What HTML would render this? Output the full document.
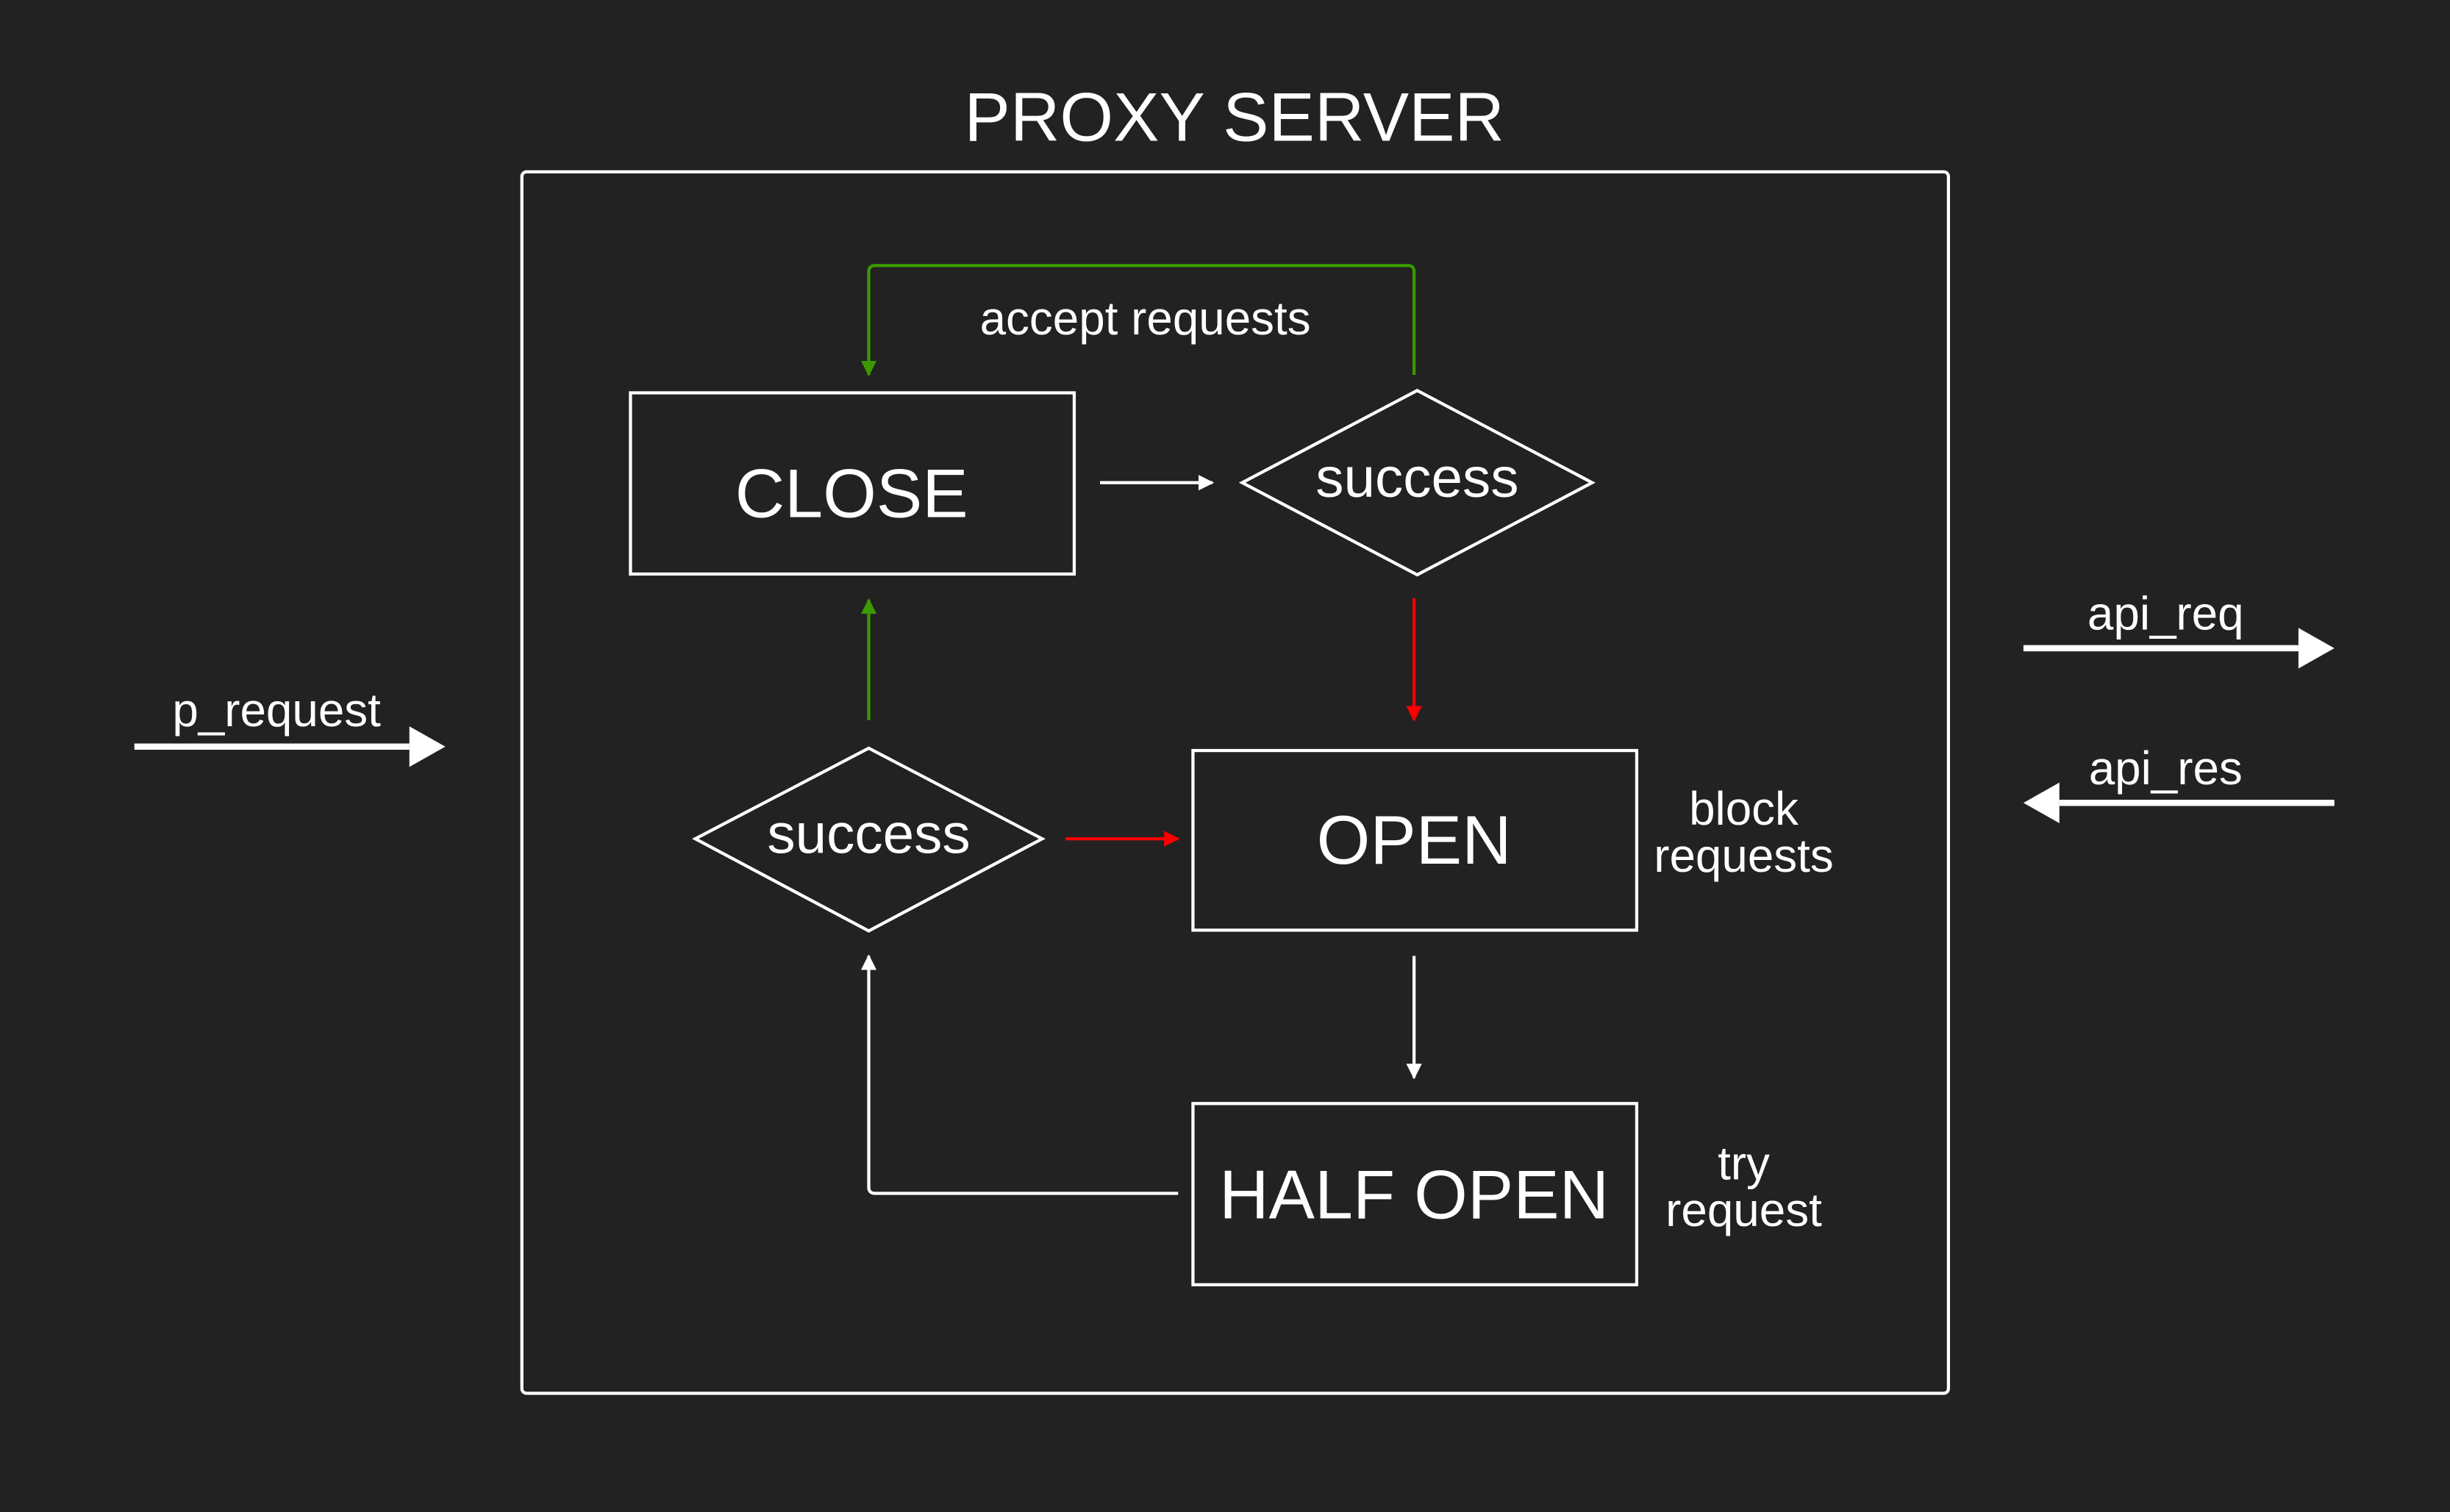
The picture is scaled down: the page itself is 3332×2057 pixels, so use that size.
<!DOCTYPE html>
<html><head><meta charset="utf-8"><style>
html,body{margin:0;padding:0;background:#222222;}
svg{display:block;}
text{font-family:"Liberation Sans","NanumGothic","Noto Sans CJK KR",sans-serif;fill:#ffffff;text-anchor:middle;}
</style></head><body>
<svg width="3332" height="2057" viewBox="0 0 1568 968" xmlns="http://www.w3.org/2000/svg">
<defs>
<marker id="aw" markerWidth="10" markerHeight="10" refX="9" refY="5" orient="auto" markerUnits="userSpaceOnUse"><path d="M0,0 L10,5 L0,10 z" fill="#fff"/></marker>
<marker id="ar" markerWidth="10" markerHeight="10" refX="9" refY="5" orient="auto" markerUnits="userSpaceOnUse"><path d="M0,0 L10,5 L0,10 z" fill="#ff0000"/></marker>
<marker id="ag" markerWidth="10" markerHeight="10" refX="9" refY="5" orient="auto" markerUnits="userSpaceOnUse"><path d="M0,0 L10,5 L0,10 z" fill="#3a9a00"/></marker>
</defs>
<rect width="1568" height="968" fill="#222222"/>
<text x="790" y="90" font-size="44">PROXY SERVER</text>
<rect x="334" y="110" width="913" height="782" rx="3" fill="none" stroke="#fff" stroke-width="2"/>

<rect x="403.5" y="251.5" width="284" height="116" fill="none" stroke="#fff" stroke-width="2"/>
<text x="545" y="331" font-size="44">CLOSE</text>

<polygon points="795,309 907,250 1019,309 907,368" fill="none" stroke="#fff" stroke-width="2"/>
<text x="907" y="318" font-size="36">success</text>

<line x1="704" y1="309" x2="776" y2="309" stroke="#fff" stroke-width="2" marker-end="url(#aw)"/>

<path d="M905,240 V174 Q905,170 901,170 H560 Q556,170 556,174 V240" fill="none" stroke="#3a9a00" stroke-width="2" marker-end="url(#ag)"/>
<text x="733" y="214" font-size="30">accept requests</text>

<line x1="905" y1="383" x2="905" y2="461" stroke="#ff0000" stroke-width="2" marker-end="url(#ar)"/>

<rect x="763.5" y="480.5" width="284" height="115" fill="none" stroke="#fff" stroke-width="2"/>
<text x="905" y="553" font-size="44">OPEN</text>
<text x="1116" y="528" font-size="30">block</text>
<text x="1116" y="558" font-size="30">requests</text>

<polygon points="445,537 556,479 667,537 556,596" fill="none" stroke="#fff" stroke-width="2"/>
<text x="556" y="546" font-size="36">success</text>

<line x1="556" y1="461" x2="556" y2="384" stroke="#3a9a00" stroke-width="2" marker-end="url(#ag)"/>
<line x1="682" y1="537" x2="754" y2="537" stroke="#ff0000" stroke-width="2" marker-end="url(#ar)"/>
<line x1="905" y1="612" x2="905" y2="690" stroke="#fff" stroke-width="2" marker-end="url(#aw)"/>

<rect x="763.5" y="706.5" width="284" height="116" fill="none" stroke="#fff" stroke-width="2"/>
<text x="905" y="780" font-size="44">HALF OPEN</text>
<text x="1116" y="755" font-size="30">try</text>
<text x="1116" y="785" font-size="30">request</text>

<path d="M754,764 H560 Q556,764 556,760 V612" fill="none" stroke="#fff" stroke-width="2" marker-end="url(#aw)"/>

<line x1="86" y1="478" x2="262" y2="478" stroke="#fff" stroke-width="4"/>
<polygon points="262,465 285,478 262,491" fill="#fff"/>
<text x="177" y="465" font-size="30">p_request</text>

<line x1="1295" y1="415" x2="1471" y2="415" stroke="#fff" stroke-width="4"/>
<polygon points="1471,402 1494,415 1471,428" fill="#fff"/>
<text x="1386" y="403" font-size="30">api_req</text>

<line x1="1318" y1="514" x2="1494" y2="514" stroke="#fff" stroke-width="4"/>
<polygon points="1318,501 1295,514 1318,527" fill="#fff"/>
<text x="1386" y="502" font-size="30">api_res</text>
</svg>
</body></html>
